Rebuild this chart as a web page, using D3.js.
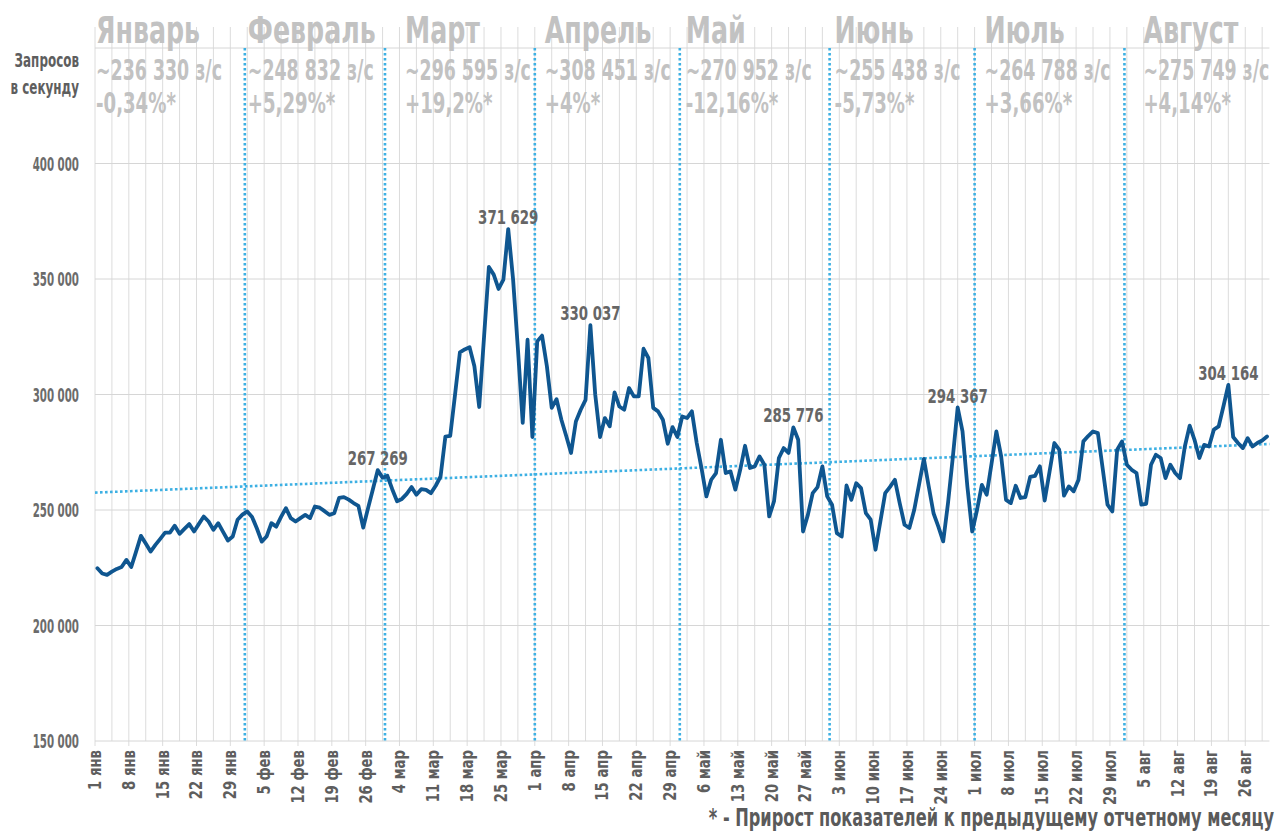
<!DOCTYPE html>
<html><head><meta charset="utf-8">
<script src="https://cdn.jsdelivr.net/npm/d3@7"></script>
<style>
html,body{margin:0;padding:0;background:#fff;}
svg{display:block;}
</style></head>
<body>
<svg id="chart" width="1277" height="832"></svg>
<script>
// ---------------- DATA ----------------
// daily requests per second, thousands, 1 Jan .. 30 Aug 2024
const rpsK = [
224.8,222.5,221.9,223.3,224.5,225.3,228.4,225.3,232,238.8,
235.5,232,234.9,237.5,240.2,240.2,243.2,239.7,241.8,243.9,
240.7,244,247.2,245,241.4,244.3,240.5,236.8,238.5,245.8,
248,249.4,247,242,236.3,238.5,244.3,242.8,247,250.8,
246.5,245,246.5,247.9,246.5,251.5,251,249.5,247.9,248.6,
255.2,255.6,254.5,253,251.8,242.4,250.8,259,267.269,264,
264.8,259,253.8,254.8,257,259.9,256.6,259,258.7,257.3,
260.5,264.5,281.8,282.1,300,318.2,319.5,320.5,312.2,294.6,
325,355.2,351.9,345.7,349.7,371.629,350,320,287.7,323.7,
281.6,323,325.5,312.2,294.2,298,289.1,282,274.7,288.3,
293.4,297.7,330.037,300,281.6,289.8,286.2,300.9,294.8,293.4,
302.8,299.2,299.2,319.8,315.8,294.2,292.7,289.1,278.7,285.9,
281.6,290.5,289.8,292.7,279,268,255.9,263.1,266,280.4,
266,266.7,258.8,267.4,277.8,268.2,268.9,273.2,269.6,247.2,
253.8,272.5,276.8,274.7,285.776,280.4,240.7,247.9,257.3,259.9,
268.9,255.9,252.3,240,238.5,260.6,254.4,261.6,259.5,248.6,
245.8,232.8,245,257.3,260,263.1,253,243.6,242.2,250,
261,272.1,260.3,248.6,242.8,236.4,253,273,294.367,284,
260.2,240.7,250,260.9,256.6,270,284,273.2,254.4,253,
260.5,255.2,255.6,264.3,264.8,268.9,254.1,266.5,279,276.1,
256.2,260.2,258.1,263.1,279.7,282,284,283.3,268,252.3,
249.4,276.1,279.7,269.6,267.4,266,252.3,252.7,269.6,273.9,
272.5,263.8,269.6,266,263.8,277.5,286.5,280.4,272.5,278.2,
277.5,284.8,286.2,295,304.164,281.6,279,276.8,281.1,277.5,
279,280.1,281.8
];
const peakIndex = [58, 85, 102, 144, 178, 234];

const monthNames = ["Январь","Февраль","Март","Апрель","Май","Июнь","Июль","Август"];
const monthAvg = [236330, 248832, 296595, 308451, 270952, 255438, 264788, 275749];
const monthChange = [-0.34, 5.29, 19.2, 4, -12.16, -5.73, 3.66, 4.14];
const monthAbbr = ["янв","фев","мар","апр","май","июн","июл","авг"];
const yTicks = [150000, 200000, 250000, 300000, 350000, 400000];
const yGrid = [150000, 200000, 250000, 300000, 350000, 400000, 450000];
const yTitle = ["Запросов", "в секунду"];
const footnote = "* - Прирост показателей к предыдущему отчетному месяцу";

// ---------------- LAYOUT ----------------
const DAY = 864e5;
const t0 = Date.UTC(2024, 0, 1);
const tEnd = Date.UTC(2024, 7, 31);
const L = 95, R = 95 + 243 * 4.833, T = 48, B = 741;
const FONT = "'Liberation Sans Narrow','Arial Narrow','DejaVu Sans Condensed',sans-serif";
const headerOffset = [1, 3, 20, 10, 6, 5, 10, 19];

const svg = d3.select("#chart");
const x = d3.scaleUtc().domain([new Date(t0), new Date(tEnd)]).range([L, R]);
const y = d3.scaleLinear().domain([150000, 450000]).range([B, T]);
const loc = d3.formatLocale({decimal: ",", thousands: " ", grouping: [3], currency: ["", ""]});
const fmt = loc.format(",d");

const series = rpsK.map((v, i) => ({date: new Date(t0 + (i + 0.5) * DAY), v: Math.round(v * 1000), i}));

function cText(sel, px, py, sx) {
  return sel.attr("transform", `translate(${px},${py}) scale(${sx},1)`);
}

// vertical grid every half week
const gridG = svg.append("g");
d3.range(0, 243.01, 3.5).forEach(d => {
  const gx = x(new Date(t0 + d * DAY));
  gridG.append("line").attr("x1", gx).attr("x2", gx).attr("y1", 27).attr("y2", B + (d % 7 === 0 ? 5 : 0))
    .attr("stroke", "#dcdcdc").attr("stroke-width", 1);
});
// horizontal grid
yGrid.forEach(v => {
  gridG.append("line").attr("x1", L).attr("x2", R).attr("y1", y(v)).attr("y2", y(v))
    .attr("stroke", "#d6d6d6").attr("stroke-width", 1);
});

// y-axis labels
yTicks.forEach(v => {
  cText(svg.append("text"), 79, y(v) + 7, 0.6)
    .attr("text-anchor", "end").attr("font-family", FONT).attr("font-size", 19).attr("font-weight", "bold")
    .attr("fill", "#6b6b6b").text(fmt(v));
});
yTitle.forEach((s, k) => {
  cText(svg.append("text"), 79, 67 + k * 27, 0.7)
    .attr("text-anchor", "end").attr("font-family", FONT).attr("font-size", 19).attr("font-weight", "bold")
    .attr("fill", "#5e5e5e").text(s);
});

// x-axis labels (weekly)
const tickDates = d3.range(0, 243, 7).map(d => new Date(t0 + d * DAY));
tickDates.forEach(dt => {
  const tx = x(dt) + 6;
  svg.append("text")
    .attr("transform", `translate(${tx},${B + 9}) rotate(-90) scale(0.82,1)`)
    .attr("text-anchor", "end").attr("font-family", FONT).attr("font-size", 18).attr("font-weight", "bold")
    .attr("fill", "#5e5e5e").text(dt.getUTCDate() + " " + monthAbbr[dt.getUTCMonth()]);
});

// month boundary dotted lines
const monthStarts = d3.range(1, 8).map(m => new Date(Date.UTC(2024, m, 1)));
monthStarts.forEach(dt => {
  svg.append("line").attr("x1", x(dt)).attr("x2", x(dt)).attr("y1", T).attr("y2", B)
    .attr("stroke", "#3db0e3").attr("stroke-width", 2.6).attr("stroke-dasharray", "2.6,2.4");
});

// trend line (least squares)
const mx = d3.mean(series, d => d.i), my = d3.mean(series, d => d.v);
const slope = d3.sum(series, d => (d.i - mx) * (d.v - my)) / d3.sum(series, d => (d.i - mx) ** 2);
const icpt = my - slope * mx;
svg.append("line")
  .attr("x1", x(new Date(t0))).attr("y1", y(icpt - slope * 0.5))
  .attr("x2", R).attr("y2", y(icpt + slope * (242.5)))
  .attr("stroke", "#3db0e3").attr("stroke-width", 2.6).attr("stroke-dasharray", "2.6,2.4");

// headers
monthNames.forEach((name, m) => {
  const hx = x(new Date(Date.UTC(2024, m, 1))) + headerOffset[m];
  cText(svg.append("text"), hx, 43, 0.74)
    .attr("font-family", FONT).attr("font-size", 38).attr("font-weight", "bold")
    .attr("fill", "#c2c2c2").text(name);
  cText(svg.append("text"), hx, 80, 0.69)
    .attr("font-family", FONT).attr("font-size", 28).attr("font-weight", "bold")
    .attr("fill", "#c2c2c2").text("~" + fmt(monthAvg[m]) + " з/с");
  const c = monthChange[m];
  cText(svg.append("text"), hx, 113, 0.72)
    .attr("font-family", FONT).attr("font-size", 28).attr("font-weight", "bold")
    .attr("fill", "#c2c2c2").text((c < 0 ? "-" : "+") + String(Math.abs(c)).replace(".", ",") + "%*");
});

// main line
svg.append("path").datum(series)
  .attr("fill", "none").attr("stroke", "#0f5690").attr("stroke-width", 3.8)
  .attr("stroke-linejoin", "round").attr("stroke-linecap", "round")
  .attr("d", d3.line().x(d => x(d.date)).y(d => y(d.v)));

// peak labels
peakIndex.forEach(i => {
  const d = series[i];
  cText(svg.append("text"), x(d.date), y(d.v) - 5, 0.78)
    .attr("text-anchor", "middle").attr("font-family", FONT).attr("font-size", 19).attr("font-weight", "bold")
    .attr("fill", "#666").text(fmt(d.v));
});

// footnote
cText(svg.append("text"), 1274, 826, 0.72)
  .attr("text-anchor", "end").attr("font-family", FONT).attr("font-size", 25).attr("font-weight", "bold")
  .attr("fill", "#5a5a5a").text(footnote);
</script>
</body></html>
